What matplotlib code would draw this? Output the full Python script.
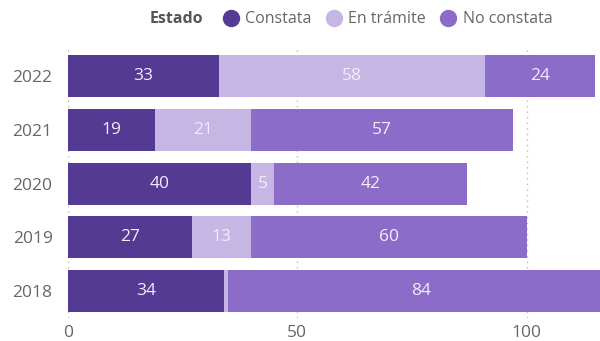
import numpy as np
import matplotlib
matplotlib.use("Agg")
from matplotlib import pyplot as plt
from matplotlib.lines import Line2D
from matplotlib.offsetbox import HPacker

plt.rcParams['font.family'] = ['Open Sans', 'DejaVu Sans']

# Datos
years = ["2018", "2019", "2020", "2021", "2022"]
constata = [34, 27, 40, 19, 33]
en_tramite = [1, 13, 5, 21, 58]
no_constata = [84, 60, 42, 57, 24]
series_names = ["Constata", "En trámite", "No constata"]
colors = ["#553a94", "#c6b6e4", "#8b6cc8"]
x_ticks = [0, 50, 100]

fig = plt.figure(figsize=(6, 3.41), dpi=100)
ax = fig.add_axes([0.113, 0.067, 0.887, 0.789])

y = np.arange(len(years))
left = np.zeros(len(years))
for name, vals, col in zip(series_names, [constata, en_tramite, no_constata], colors):
    vals = np.array(vals, dtype=float)
    ax.barh(y, vals, left=left, height=0.78, color=col, zorder=2)
    for yi, l, v in zip(y, left, vals):
        # las etiquetas pequeñas no se muestran
        if v >= 3:
            ax.text(l + v / 2, yi, str(int(v)), ha="center", va="center",
                    color="#f1edf8", fontsize=12.5, zorder=3)
    left += vals

ax.set_xlim(0, 116)
ax.set_ylim(-0.5, len(years) - 0.5)
ax.set_yticks(y)
ax.set_yticklabels(years)
ax.set_xticks(x_ticks)
ax.tick_params(length=0, colors="#666666", labelsize=12.5)
ax.tick_params(axis="y", pad=11)
ax.tick_params(axis="x", pad=5)
for s in ax.spines.values():
    s.set_visible(False)
ax.grid(axis="x", linestyle=(0, (1, 3)), color="#bbbbbb", linewidth=1, zorder=0)

# Leyenda
handles = [Line2D([], [], marker="o", linestyle="", markersize=11.5,
                  markerfacecolor=c, markeredgecolor=c) for c in colors]
leg = fig.legend(handles, series_names, loc="center", bbox_to_anchor=(0.585, 0.944),
                 ncol=3, frameon=False, fontsize=11.5, handletextpad=-0.1,
                 columnspacing=0.4, title="Estado",
                 title_fontproperties={"weight": "bold", "size": 11.5})
for t in leg.get_texts():
    t.set_color("#666666")
leg.get_title().set_color("#555555")
# título a la izquierda en la misma línea
title_box = leg._legend_title_box
handle_box = leg._legend_handle_box
leg._legend_box = HPacker(pad=0, sep=8, align="center", children=[title_box, handle_box])
leg._legend_box.set_figure(fig)
leg._legend_box.set_offset(leg._findoffset)

fig.savefig("out.png", dpi=100)
